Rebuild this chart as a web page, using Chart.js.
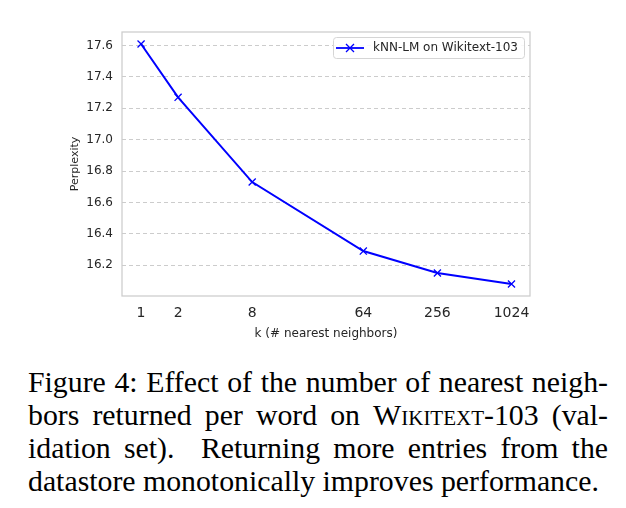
<!DOCTYPE html>
<html>
<head>
<meta charset="utf-8">
<script src="https://cdn.jsdelivr.net/npm/chart.js@4"></script>
<style>
  html, body { margin: 0; padding: 0; background: #fff; }
  #wrap { position: relative; width: 626px; height: 508px; }
  #plot { position: absolute; left: 0; top: 0; width: 626px; height: 345px; }
  #caption {
    position: absolute; left: 28px; top: 365px; width: 580px;
    font-family: "Liberation Serif", "Times New Roman", serif;
    font-size: 29.8px; line-height: 33px; color: #000;
  }
  #caption .ln { display: block; text-align: justify; text-align-last: justify; white-space: nowrap; }
  #caption .last { text-align-last: left; }
  .sc { font-variant: small-caps; }
</style>
</head>
<body>
<div id="wrap">
  <div id="plot"><canvas id="chart"></canvas></div>
  <div id="caption">
    <span class="ln">Figure 4: Effect of the number of nearest neigh-</span>
    <span class="ln">bors returned per word on <span class="sc">Wikitext</span>-103 (val-</span>
    <span class="ln">idation set).&nbsp; Returning more entries from the</span>
    <span class="ln last">datastore monotonically improves performance.</span>
  </div>
</div>
<script>
var kValues = [1, 2, 8, 64, 256, 1024];
var perplexity = [17.61, 17.27, 16.73, 16.29, 16.15, 16.08];
var xTicks = [1, 2, 8, 64, 256, 1024];
var yTicks = [16.2, 16.4, 16.6, 16.8, 17.0, 17.2, 17.4, 17.6];

var blue = '#0000ff';
var frameColor = '#cccccc';

// frame round the plot area + legend inside top-right
var framePlugin = {
    id: 'frame',
    afterDraw: function (chart) {
        var ctx = chart.ctx;
        var a = chart.chartArea;
        ctx.save();
        ctx.strokeStyle = frameColor;
        ctx.lineWidth = 1.25;
        ctx.strokeRect(a.left, a.top, a.right - a.left, a.bottom - a.top);

        // legend box
        var label = chart.data.datasets[0].label;
        ctx.font = '12px "DejaVu Sans"';
        var tw = ctx.measureText(label).width;
        var w = tw + 46, h = 21;
        var x = Math.round(a.right - 6 - w), y = Math.round(a.top + 5);
        ctx.fillStyle = 'rgba(255,255,255,0.85)';
        ctx.strokeStyle = '#d5d5d5';
        ctx.lineWidth = 1;
        ctx.beginPath();
        ctx.roundRect(x + 0.5, y + 0.5, w, h, 3);
        ctx.fill();
        ctx.stroke();
        var cy = y + h / 2 + 0.5;
        ctx.strokeStyle = blue;
        ctx.lineWidth = 1.8;
        ctx.beginPath();
        ctx.moveTo(x + 3, cy);
        ctx.lineTo(x + 31, cy);
        ctx.stroke();
        ctx.lineWidth = 1.3;
        ctx.beginPath();
        ctx.moveTo(x + 13, cy - 4); ctx.lineTo(x + 21, cy + 4);
        ctx.moveTo(x + 21, cy - 4); ctx.lineTo(x + 13, cy + 4);
        ctx.stroke();
        ctx.fillStyle = '#262626';
        ctx.textBaseline = 'middle';
        ctx.fillText(label, x + 40, cy);
        ctx.restore();
    }
};

new Chart(document.getElementById('chart'), {
    type: 'line',
    data: {
        datasets: [{
            label: 'kNN-LM on Wikitext-103',
            data: kValues.map(function (k, i) { return { x: k, y: perplexity[i] }; }),
            borderColor: blue,
            backgroundColor: blue,
            borderWidth: 2,
            pointStyle: 'crossRot',
            pointRadius: 5,
            pointBorderWidth: 1.3,
            tension: 0
        }]
    },
    options: {
        responsive: true,
        maintainAspectRatio: false,
        animation: false,
        layout: { padding: { left: 0, right: 96, top: 32, bottom: 0 } },
        plugins: { legend: { display: false }, tooltip: { enabled: false } },
        scales: {
            x: {
                type: 'logarithmic',
                min: Math.pow(2, -0.5),
                max: Math.pow(2, 10.5),
                afterBuildTicks: function (scale) {
                    scale.ticks = xTicks.map(function (v) { return { value: v }; });
                },
                afterFit: function (scale) { scale.height = 49; },
                grid: { display: false, drawTicks: false },
                border: { display: false },
                ticks: {
                    padding: 9,
                    color: '#262626',
                    font: { family: 'DejaVu Sans', size: 14 },
                    autoSkip: false,
                    maxRotation: 0,
                    callback: function (v) { return String(v); }
                },
                title: {
                    display: true,
                    text: 'k (# nearest neighbors)',
                    color: '#262626',
                    font: { family: 'DejaVu Sans', size: 12 },
                    padding: { top: 2, bottom: 4 }
                }
            },
            y: {
                min: 16.0035,
                max: 17.6865,
                afterBuildTicks: function (scale) {
                    scale.ticks = yTicks.map(function (v) { return { value: v }; });
                },
                afterFit: function (scale) { scale.width = 122; },
                grid: { color: frameColor, lineWidth: 1, drawTicks: false },
                border: { display: false, dash: [4, 3] },
                ticks: {
                    padding: 9,
                    color: '#262626',
                    font: { family: 'DejaVu Sans', size: 12 },
                    callback: function (v) { return Number(v).toFixed(1); }
                },
                title: {
                    display: true,
                    text: 'Perplexity',
                    color: '#262626',
                    font: { family: 'DejaVu Sans', size: 11 },
                    padding: { top: 69, bottom: 0 }
                }
            }
        }
    },
    plugins: [framePlugin]
});
</script>
</body>
</html>
